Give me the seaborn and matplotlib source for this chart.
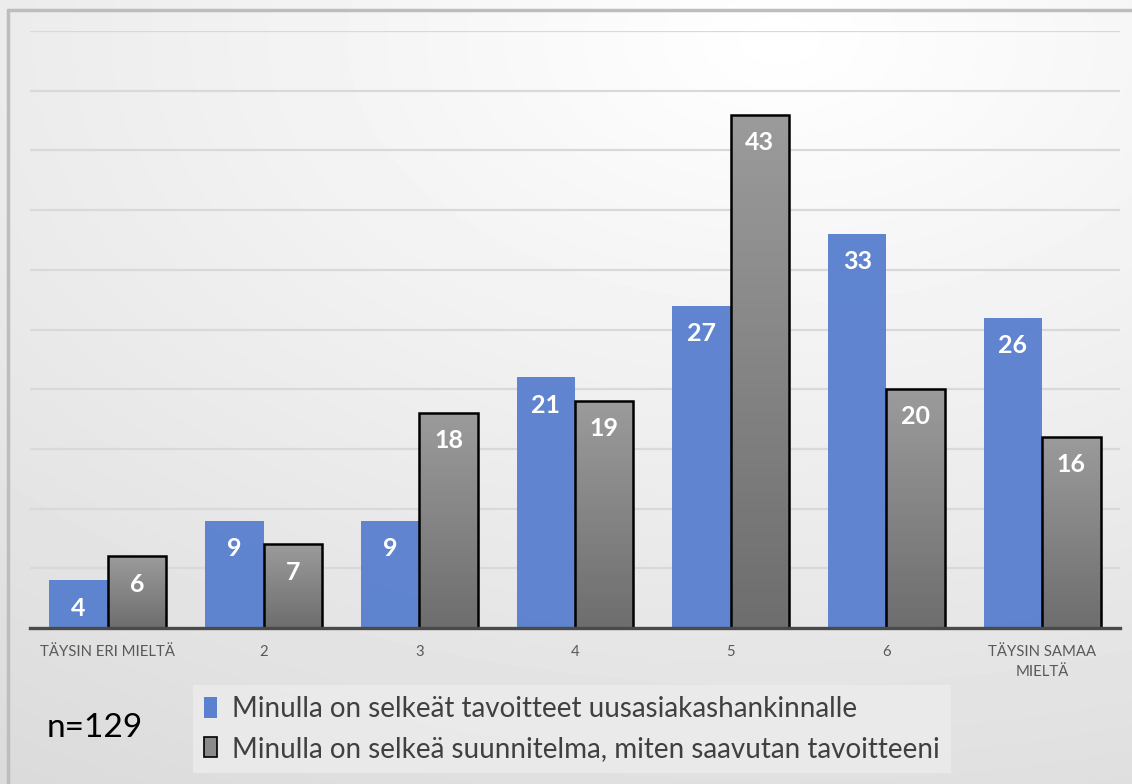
import numpy as np
import pandas as pd
import seaborn as sns
import matplotlib.pyplot as plt
from matplotlib.colors import LinearSegmentedColormap
from matplotlib.patches import Patch

categories = ["TÄYSIN ERI MIELTÄ", "2", "3", "4", "5", "6", "TÄYSIN SAMAA\nMIELTÄ"]
goals = [4, 9, 9, 21, 27, 33, 26]
plan = [6, 7, 18, 19, 43, 20, 16]
series = ["Minulla on selkeät tavoitteet uusasiakashankinnalle",
          "Minulla on selkeä suunnitelma, miten saavutan tavoitteeni"]

BLUE = "#5a80cf"
GRAY = "#8a8a8a"

df = pd.DataFrame({
    "cat": categories * 2,
    "value": goals + plan,
    "series": [series[0]] * len(categories) + [series[1]] * len(categories),
})

sns.set_theme(style="white")
plt.rcParams["font.family"] = ["Lato", "DejaVu Sans"]

fig = plt.figure(figsize=(11.32, 7.84), dpi=100)

# soft radial background like the original slide
bg = fig.add_axes([0, 0, 1, 1], zorder=-10)
yy, xx = np.mgrid[0:784, 0:1132]
drop = np.sqrt(((xx - 780) / 39.5) ** 2 + ((yy - 40) / 24.0) ** 2)
shade = np.clip(255 - drop, 214, 255) / 255
bg.imshow(shade, cmap="gray", vmin=0, vmax=1, aspect="auto", extent=(0, 1132, 784, 0))
bg.plot([8, 1132], [10, 10], color="#bdbdbd", lw=2.5)
bg.plot([8, 8], [10, 784], color="#bdbdbd", lw=2.5)
bg.set_xlim(0, 1132)
bg.set_ylim(784, 0)
bg.axis("off")

ax = fig.add_axes([30 / 1132, 1 - 628 / 784, 1090 / 1132, 597 / 784])
ax.patch.set_alpha(0)

sns.barplot(data=df, x="cat", y="value", hue="series", palette=[BLUE, GRAY],
            width=0.75, gap=0, saturation=1, ax=ax, legend=False, zorder=3)

blue_bars, gray_bars = ax.containers
for p in blue_bars:
    p.set_alpha(0.96)
    p.set_edgecolor("none")

# vertical gradient on the grey bars, clipped to each bar
grad = np.linspace(0, 1, 64).reshape(-1, 1)
gcmap = LinearSegmentedColormap.from_list("g", ["#9b9b9b", "#6e6e6e"])
for p in gray_bars:
    x0, w, h = p.get_x(), p.get_width(), p.get_height()
    im = ax.imshow(grad, cmap=gcmap, aspect="auto", extent=(x0, x0 + w, 0, h),
                   origin="upper", zorder=3)
    im.set_clip_path(p)
    p.set_facecolor("none")
    p.set_edgecolor("black")
    p.set_linewidth(1.8)
    p.set_zorder(4)

for cont in ax.containers:
    for p in cont:
        h = p.get_height()
        ax.annotate(f"{int(h)}", (p.get_x() + p.get_width() / 2, h),
                    xytext=(0, -20), textcoords="offset points",
                    ha="center", va="center", color="white",
                    fontsize=18, fontweight="bold", zorder=6)

ax.set_xlim(-0.5, len(categories) - 0.5)
ax.set_ylim(0, 50)
ax.set_yticks(np.arange(5, 51, 5))
ax.yaxis.grid(True, color="#d9d9d9", lw=1.6, zorder=0)
ax.set_yticklabels([])
ax.tick_params(axis="y", length=0)
ax.tick_params(axis="x", length=0, pad=12, labelsize=10.7, labelcolor="#595959")
for t in ax.get_xticklabels():
    t.set_linespacing(1.6)
ax.set_xlabel("")
ax.set_ylabel("")
for s in ["top", "right", "left"]:
    ax.spines[s].set_visible(False)
ax.spines["bottom"].set_color("#4a4a4a")
ax.spines["bottom"].set_linewidth(2.4)
ax.spines["bottom"].set_zorder(5)

handles = [Patch(facecolor=BLUE, edgecolor="none"),
           Patch(facecolor=GRAY, edgecolor="black", linewidth=1.2)]
fig.legend(handles, series, loc="upper left", bbox_to_anchor=(193 / 1132, 1 - 685 / 784),
           borderaxespad=0, fontsize=20, frameon=True, facecolor="#ebebeb",
           edgecolor="none", framealpha=0.9, fancybox=False, handlelength=0.45,
           handleheight=0.75, handletextpad=0.55, labelspacing=0.5, borderpad=0.4,
           labelcolor="#404040")

fig.text(47 / 1132, 1 - 728 / 784, "n=129", fontsize=24, color="black", va="center")

fig.savefig("out.png", dpi=100)
